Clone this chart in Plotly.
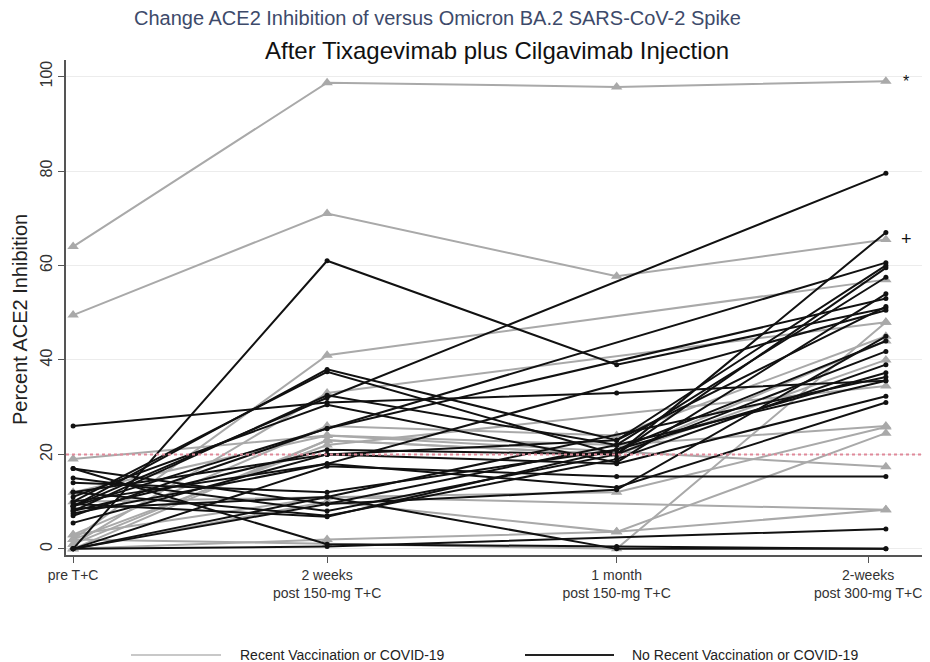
import plotly.graph_objects as go

# x positions of the four visits (uneven spacing, as in the figure)
visit_x = [0, 1, 2.14, 3.2]
tick_x = [0, 1, 2.14, 3.13]
visit_labels = ["pre T+C", "2 weeks<br>post 150-mg T+C", "1 month<br>post 150-mg T+C",
                "2-weeks<br>post 300-mg T+C"]

# Recent vaccination or COVID-19 (gray, triangles)
recent = [
    [64, 98.7, 97.8, 99],
    [49.5, 71, 57.7, 65.5],
    [19, 24, 22, 26],
    [2, 41, None, 57],
    [1, 33, None, 48],
    [3, 26, 24, 45],
    [0, 23, 20, 40],
    [2, 22, None, 34.5],
    [10, 11, 12, 25.8],
    [0, 10, 3.6, 24.5],
    [2, 1, 0, 48],
    [12, 24, None, 17.4],
    [0, 2, 3.6, 8.3],
    [3, 11, None, 8.3],
    [1, 23, 20, 44],
]

# No recent vaccination or COVID-19 (black, dots)
no_recent = [
    [0, 61, 39, 51],
    [9, 32, None, 79.5],
    [8, 21, 20, 67],
    [26, 31, 33, 35.6],
    [9, 38, 23, 60],
    [10, 37.5, 20, 59.5],
    [8, 32.5, 22, 57.5],
    [11, 30.5, 18.3, 54],
    [7, 25.5, None, 53],
    [5.5, 20, 23, 51.3],
    [10, 18, None, 50.5],
    [0, 17.5, 15.3, 15.3],
    [17, 9.5, 12.5, 45],
    [15, 8, 20, 41.8],
    [12, 7, 19, 39],
    [9.5, 6.8, 21, 37.3],
    [8.5, 11, None, 36.4],
    [0, 11, 0, 0],
    [0, 0.5, None, 4.2],
    [7.5, 18, 13, 31],
    [0, 9.5, 22, 35.6],
    [17, 1, 0.5, 0],
    [12, 20, 18, 32.3],
    [9, 25.5, None, 60.6],
    [14, 12, 21, 44],
]

fig = go.Figure()

for vals in recent:
    fig.add_trace(go.Scatter(
        x=visit_x, y=vals, mode='lines+markers', connectgaps=True,
        line=dict(color='#a9a9a9', width=2),
        marker=dict(symbol='triangle-up', size=10, color='#a9a9a9'),
        showlegend=False, hoverinfo='y'))

for vals in no_recent:
    fig.add_trace(go.Scatter(
        x=visit_x, y=vals, mode='lines+markers', connectgaps=True,
        line=dict(color='#111111', width=2),
        marker=dict(symbol='circle', size=5, color='#111111'),
        showlegend=False, hoverinfo='y'))

# threshold line at 20%
fig.add_shape(type='line', xref='paper', x0=0, x1=1, yref='y', y0=20, y1=20,
              line=dict(color='#e0899a', width=2, dash='dot'))

# page pixel -> paper coords (plot area spans x 66..925, y 60..555 on the page)
def px(p):
    return (p - 66) / 859

def py(p):
    return (555 - p) / 495

# legend drawn by hand so the line samples are long
fig.add_shape(type='line', xref='paper', yref='paper', x0=px(131), x1=px(221),
              y0=py(655), y1=py(655), line=dict(color='#c8c8c8', width=2))
fig.add_shape(type='line', xref='paper', yref='paper', x0=px(525), x1=px(614),
              y0=py(655), y1=py(655), line=dict(color='#222222', width=2))

font_main = "Liberation Sans, Arial, sans-serif"
annos = [
    dict(text="Recent Vaccination or COVID-19", x=px(238), y=py(655),
         xanchor='left', font=dict(size=14, color='#222')),
    dict(text="No Recent Vaccination or COVID-19", x=px(630), y=py(655),
         xanchor='left', font=dict(size=14, color='#222')),
    dict(text="Change ACE2 Inhibition of versus Omicron BA.2 SARS-CoV-2 Spike",
         x=px(437), y=py(18), xanchor='center',
         font=dict(size=20, color='#3d4a6a')),
    dict(text="After Tixagevimab plus Cilgavimab Injection",
         x=px(497), y=py(50), xanchor='center',
         font=dict(size=24, color='#111')),
    dict(text="Percent ACE2 Inhibition", x=px(20), y=py(320), xanchor='center',
         textangle=-90, font=dict(size=20, color='#222')),
]
for a in annos:
    fig.add_annotation(xref='paper', yref='paper', showarrow=False, yanchor='middle',
                       font_family=font_main, **a)

fig.add_annotation(x=3.28, y=99, xref='x', yref='y', text="*", showarrow=False,
                   font=dict(size=16, color='#111', family=font_main))
fig.add_annotation(x=3.28, y=65.5, xref='x', yref='y', text="+", showarrow=False,
                   font=dict(size=18, color='#111', family=font_main))

# page has an 8px body margin, so the figure's own coordinates are shifted by 8
fig.update_layout(
    width=930, height=662,
    margin=dict(l=58, r=13, t=52, b=115),
    plot_bgcolor='white', paper_bgcolor='white',
    font=dict(family=font_main, color='#222'),
    showlegend=False,
)

fig.update_xaxes(
    range=[-0.028, 3.354], tickvals=tick_x, ticktext=visit_labels,
    showgrid=False, zeroline=False, automargin=False,
    showline=True, linecolor='#555', linewidth=2,
    ticks='outside', ticklen=6, tickcolor='#555',
    tickfont=dict(size=14, color='#333'),
)
fig.update_yaxes(
    range=[-1.3, 103.5], tickvals=[0, 20, 40, 60, 80, 100],
    showgrid=True, gridcolor='#ececec', gridwidth=1, zeroline=False, automargin=False,
    showline=True, linecolor='#555', linewidth=2,
    ticks='outside', ticklen=6, tickcolor='#555',
    tickangle=-90, tickfont=dict(size=16, color='#333'),
)

fig.write_html("out.html")
